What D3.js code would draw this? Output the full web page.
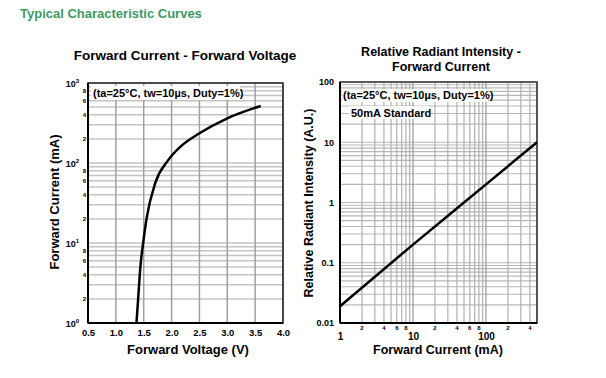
<!DOCTYPE html>
<html>
<head>
<meta charset="utf-8">
<script src="https://cdn.jsdelivr.net/npm/d3@7"></script>
<style>
  body { margin: 0; background: #fff; }
  text { font-family: Arial, "Liberation Sans", sans-serif; }
</style>
</head>
<body>
<div id="chart"></div>
<script>
var svgWidth = 606;
var svgHeight = 378;

// left chart: forward current vs forward voltage
var vfVolts = [1.37, 1.40, 1.44, 1.49, 1.55, 1.71, 1.92, 2.16, 2.50, 3.00, 3.60];
var vfCurrent = [1, 2, 5, 10, 20, 57, 104, 160, 235, 362, 516];
var vfXTicks = [0.5, 1.0, 1.5, 2.0, 2.5, 3.0, 3.5, 4.0];
var vfYMajor = [1, 10, 100, 1000];
var vfYMinorLabels = [2, 4, 6, 8];

// right chart: relative radiant intensity vs forward current
var riCurrent = [1, 10, 50, 100, 500];
var riIntensity = [0.019, 0.2, 1.0, 2.0, 10];
var riYTicks = [0.01, 0.1, 1, 10, 100];
var riXMajor = [1, 10, 100];
var riXMinorLabels = [2, 4, 6, 8];

var svg = d3.select("#chart")
  .append("svg")
  .attr("width", svgWidth)
  .attr("height", svgHeight);

svg.append("text")
  .attr("x", 20)
  .attr("y", 18)
  .attr("fill", "#3c9a64")
  .style("font-size", "13px")
  .style("font-weight", "bold")
  .text("Typical Characteristic Curves");

// every minor value in the log decades of a domain
function logGrid(lo, hi) {
  var out = [];
  for (var d = lo; d < hi; d *= 10) {
    for (var k = 1; k < 10; k++) {
      var v = d * k;
      if (v <= hi * 1.0001) out.push(v);
    }
  }
  out.push(hi);
  return out;
}

/*
 * LEFT CHART
 */
var xV = d3.scaleLinear().domain([0.5, 4]).range([88, 283]);
var yI = d3.scaleLog().domain([1, 1000]).range([323, 83]);

var left = svg.append("g");

left.selectAll(".hgrid")
  .data(logGrid(1, 1000))
  .enter()
  .append("line")
  .attr("x1", xV.range()[0]).attr("x2", xV.range()[1])
  .attr("y1", d => yI(d)).attr("y2", d => yI(d))
  .attr("stroke", "#c4c4c4")
  .attr("stroke-width", 1.5);

left.selectAll(".vgrid")
  .data(vfXTicks)
  .enter()
  .append("line")
  .attr("x1", d => xV(d)).attr("x2", d => xV(d))
  .attr("y1", yI.range()[0]).attr("y2", yI.range()[1])
  .attr("stroke", "#a0a0a0")
  .attr("stroke-width", 1.5);

left.append("rect")
  .attr("x", 88).attr("y", 83)
  .attr("width", 195).attr("height", 240)
  .attr("fill", "none")
  .attr("stroke", "#222")
  .attr("stroke-width", 1.5);

left.append("line")
  .attr("x1", 88).attr("x2", 283).attr("y1", 323).attr("y2", 323)
  .attr("stroke", "#000").attr("stroke-width", 2);
left.append("line")
  .attr("x1", 88).attr("x2", 88).attr("y1", 83).attr("y2", 323)
  .attr("stroke", "#000").attr("stroke-width", 2);

var xAxisL = left.append("g")
  .attr("transform", "translate(0,323)")
  .call(d3.axisBottom(xV).tickValues(vfXTicks).tickSize(0).tickPadding(6).tickFormat(d3.format(".1f")));
xAxisL.select(".domain").remove();
xAxisL.selectAll("text")
  .style("font-size", "9.5px").style("font-weight", "bold")
  .style("font-family", "Arial, 'Liberation Sans', sans-serif")
  .attr("fill", "#000");

// decade labels with superscript exponent
var yLab = left.selectAll(".ylab")
  .data(vfYMajor)
  .enter()
  .append("text")
  .attr("x", 79)
  .attr("y", d => yI(d) + 4)
  .attr("text-anchor", "end")
  .style("font-size", "9px")
  .style("font-weight", "bold");
yLab.append("tspan").text("10");
yLab.append("tspan")
  .attr("dy", -4)
  .style("font-size", "6px")
  .text(d => Math.round(Math.log10(d)));

var minorI = [];
vfYMajor.slice(0, 3).forEach(function(d) {
  vfYMinorLabels.forEach(function(k) { minorI.push(d * k); });
});
left.selectAll(".yminor")
  .data(minorI)
  .enter()
  .append("text")
  .attr("x", 86)
  .attr("y", d => yI(d) + 2)
  .attr("text-anchor", "end")
  .style("font-size", "6px")
  .style("font-weight", "bold")
  .text(d => Math.round(d / Math.pow(10, Math.floor(Math.log10(d) + 1e-9))));

var lineL = d3.line()
  .x((d, i) => xV(vfVolts[i]))
  .y(d => yI(d))
  .curve(d3.curveMonotoneX);

left.append("path")
  .datum(vfCurrent)
  .attr("d", lineL)
  .attr("fill", "none")
  .attr("stroke", "#000")
  .attr("stroke-width", 2.5);

left.append("rect")
  .attr("x", 91).attr("y", 86).attr("width", 149).attr("height", 14)
  .attr("fill", "#fff");
left.append("text")
  .attr("x", 93).attr("y", 97)
  .style("font-size", "11px").style("font-weight", "bold")
  .text("(ta=25°C, tw=10µs, Duty=1%)");

left.append("text")
  .attr("x", 185).attr("y", 60)
  .attr("text-anchor", "middle")
  .style("font-size", "13.5px").style("font-weight", "bold")
  .text("Forward Current - Forward Voltage");

left.append("text")
  .attr("x", 188).attr("y", 354)
  .attr("text-anchor", "middle")
  .style("font-size", "13px").style("font-weight", "bold")
  .text("Forward Voltage (V)");

left.append("text")
  .attr("transform", "translate(59,202) rotate(-90)")
  .attr("text-anchor", "middle")
  .style("font-size", "13px").style("font-weight", "bold")
  .text("Forward Current (mA)");

/*
 * RIGHT CHART
 */
var xR = d3.scaleLog().domain([1, 500]).range([340, 537]);
var yR = d3.scaleLog().domain([0.01, 100]).range([323, 82]);

var right = svg.append("g");

right.selectAll(".hgrid")
  .data(logGrid(0.01, 100))
  .enter()
  .append("line")
  .attr("x1", 340).attr("x2", 537)
  .attr("y1", d => yR(d)).attr("y2", d => yR(d))
  .attr("stroke", "#b8b8b8")
  .attr("stroke-width", 1.2);

right.selectAll(".vgrid")
  .data(logGrid(1, 500))
  .enter()
  .append("line")
  .attr("x1", d => xR(d)).attr("x2", d => xR(d))
  .attr("y1", 323).attr("y2", 82)
  .attr("stroke", d => (riXMajor.indexOf(d) >= 0 ? "#999" : "#b0b0b0"))
  .attr("stroke-width", 1.2);

right.append("rect")
  .attr("x", 340).attr("y", 82)
  .attr("width", 197).attr("height", 241)
  .attr("fill", "none")
  .attr("stroke", "#333")
  .attr("stroke-width", 1.5);

right.append("line")
  .attr("x1", 340).attr("x2", 537).attr("y1", 323).attr("y2", 323)
  .attr("stroke", "#000").attr("stroke-width", 2);
right.append("line")
  .attr("x1", 340).attr("x2", 340).attr("y1", 82).attr("y2", 323)
  .attr("stroke", "#000").attr("stroke-width", 2);

var yAxisR = right.append("g")
  .attr("transform", "translate(340,0)")
  .call(d3.axisLeft(yR).tickValues(riYTicks).tickSize(0).tickPadding(6).tickFormat(d => String(d)));
yAxisR.select(".domain").remove();
yAxisR.selectAll("text")
  .style("font-size", "9px").style("font-weight", "bold")
  .style("font-family", "Arial, 'Liberation Sans', sans-serif")
  .attr("fill", "#000");

var xAxisR = right.append("g")
  .attr("transform", "translate(0,323)")
  .call(d3.axisBottom(xR).tickValues(riXMajor).tickSize(0).tickPadding(10).tickFormat(d => String(d)));
xAxisR.select(".domain").remove();
xAxisR.selectAll("text")
  .style("font-size", "10px").style("font-weight", "bold")
  .style("font-family", "Arial, 'Liberation Sans', sans-serif")
  .attr("fill", "#000");

var minorX = [];
riXMajor.forEach(function(d) {
  riXMinorLabels.forEach(function(k) {
    if (d * k <= 500) minorX.push(d * k);
  });
});
right.selectAll(".xminor")
  .data(minorX)
  .enter()
  .append("text")
  .attr("x", d => xR(d))
  .attr("y", 330)
  .attr("text-anchor", "middle")
  .style("font-size", "6px")
  .style("font-weight", "bold")
  .text(d => Math.round(d / Math.pow(10, Math.floor(Math.log10(d) + 1e-9))));

var lineR = d3.line()
  .x((d, i) => xR(riCurrent[i]))
  .y(d => yR(d));

right.append("path")
  .datum(riIntensity)
  .attr("d", lineR)
  .attr("fill", "none")
  .attr("stroke", "#000")
  .attr("stroke-width", 2.5);

right.append("rect")
  .attr("x", 342).attr("y", 89).attr("width", 146).attr("height", 13)
  .attr("fill", "#fff");
right.append("text")
  .attr("x", 343).attr("y", 99)
  .style("font-size", "11px").style("font-weight", "bold")
  .text("(ta=25°C, tw=10µs, Duty=1%)");
right.append("rect")
  .attr("x", 349).attr("y", 106).attr("width", 80).attr("height", 13)
  .attr("fill", "#fff");
right.append("text")
  .attr("x", 351).attr("y", 117)
  .style("font-size", "11px").style("font-weight", "bold")
  .text("50mA Standard");

right.append("text")
  .attr("x", 441).attr("y", 56)
  .attr("text-anchor", "middle")
  .style("font-size", "12.5px").style("font-weight", "bold")
  .text("Relative Radiant Intensity -");
right.append("text")
  .attr("x", 441).attr("y", 71)
  .attr("text-anchor", "middle")
  .style("font-size", "12.5px").style("font-weight", "bold")
  .text("Forward Current");

right.append("text")
  .attr("x", 438).attr("y", 354)
  .attr("text-anchor", "middle")
  .style("font-size", "12.5px").style("font-weight", "bold")
  .text("Forward Current (mA)");

right.append("text")
  .attr("transform", "translate(313,203) rotate(-90)")
  .attr("text-anchor", "middle")
  .style("font-size", "12.5px").style("font-weight", "bold")
  .text("Relative Radiant Intensity (A.U.)");
</script>
</body>
</html>
